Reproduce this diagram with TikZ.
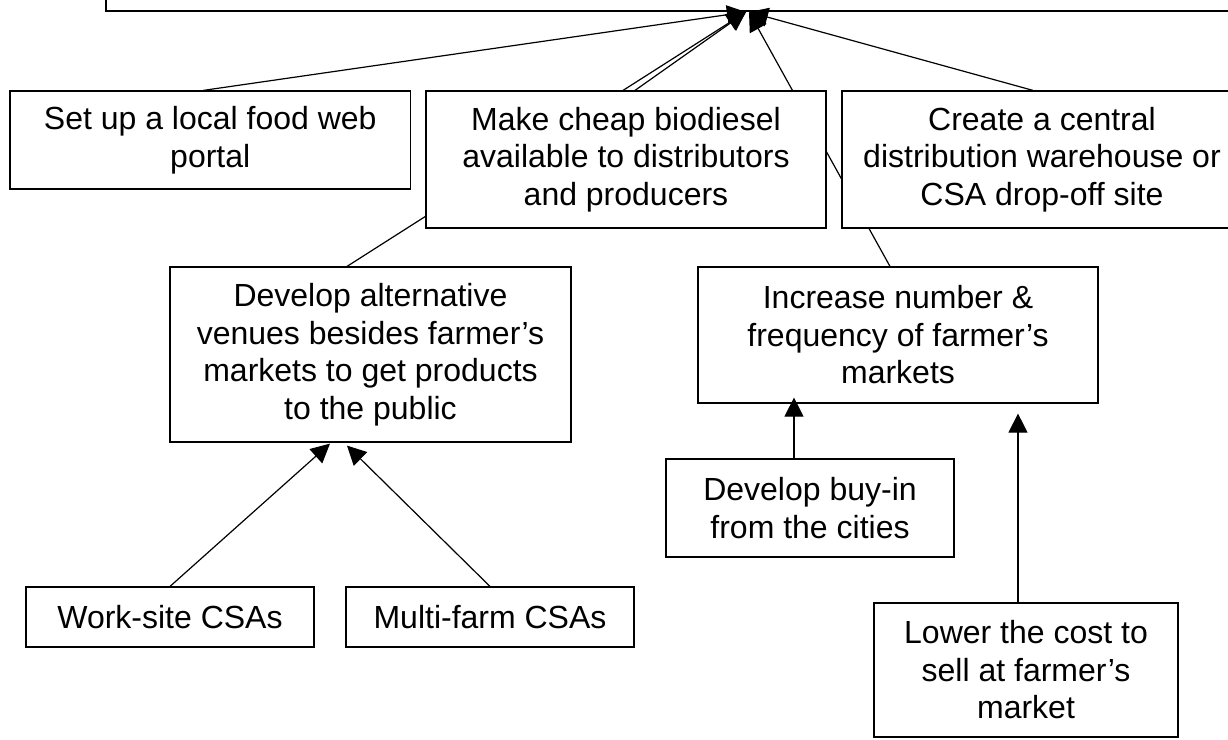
\documentclass[tikz,border=0pt]{standalone}
\usepackage{fontspec}
\setmainfont{Liberation Sans}
\usetikzlibrary{calc,arrows.meta}
\pgfdeclarelayer{back}
\pgfsetlayers{back,main}

\begin{document}
\begin{tikzpicture}[x=1pt,y=-1pt,
  box/.style={draw,line width=1.2pt,fill=white,inner sep=0pt,align=center,
    font=\fontsize{32}{37.5}\selectfont},
  arr/.style={line width=1.2pt,-{Triangle[length=19pt,width=19pt]}}]
  \useasboundingbox (0,0) rectangle (1228,739);

  \node[box,fill=none,minimum width=1144pt,minimum height=41pt] (goal) at (678,-9.5) {};

  \node[box,minimum width=400.5pt,minimum height=98pt] (portal) at (210.25,140)
    {Set up a local food web\\portal};
  \node[box,minimum width=400pt,minimum height=137pt] (biodiesel) at (626,159.5)
    {Make cheap biodiesel\\available to distributors\\and producers};
  \node[box,minimum width=400pt,minimum height=137pt] (warehouse) at (1042,159.5)
    {Create a central\\distribution warehouse or\\CSA drop-off site};
  \node[box,minimum width=401pt,minimum height=175pt] (venues) at (370.5,354.5)
    {Develop alternative\\venues besides farmer’s\\markets to get products\\to the public};
  \node[box,minimum width=400pt,minimum height=136pt] (markets) at (898,335)
    {Increase number \&\\frequency of farmer’s\\markets};
  \node[box,minimum width=288pt,minimum height=98pt] (buyin) at (810,508)
    {Develop buy-in\\from the cities};
  \node[box,minimum width=288pt,minimum height=60pt] (worksite) at (170,617)
    {Work-site CSAs};
  \node[box,minimum width=288pt,minimum height=60pt] (multifarm) at (490,617)
    {Multi-farm CSAs};
  \node[box,minimum width=304pt,minimum height=134pt] (lowercost) at (1026,670)
    {Lower the cost to\\sell at farmer’s\\market};

  \coordinate (tipL) at (746,12);
  \coordinate (tipR) at (749,12);

  \begin{pgfonlayer}{back}
  \draw[arr] ($(venues.north)+(-23.5,0)$) -- (tipL);
  \draw[arr] ($(markets.north)+(-8,0)$) -- (tipR);
  \end{pgfonlayer}

  \draw[arr] ($(portal.north)+(-7,0)$) -- (tipL);
  \draw[arr] ($(biodiesel.north)+(9,0)$) -- (tipL);
  \draw[arr] ($(warehouse.north)+(-9,0)$) -- (tipR);

  \draw[arr] (worksite.north) -- ($(venues.south)+(-40.5,1)$);
  \draw[arr] (multifarm.north) -- ($(venues.south)+(-23.5,3)$);
  \draw[arr] ($(buyin.north)+(-16,0)$) -- ($(markets.south)+(-104,-6)$);
  \draw[arr] ($(lowercost.north)+(-8,0)$) -- ($(markets.south)+(120,10)$);
\end{tikzpicture}
\end{document}
